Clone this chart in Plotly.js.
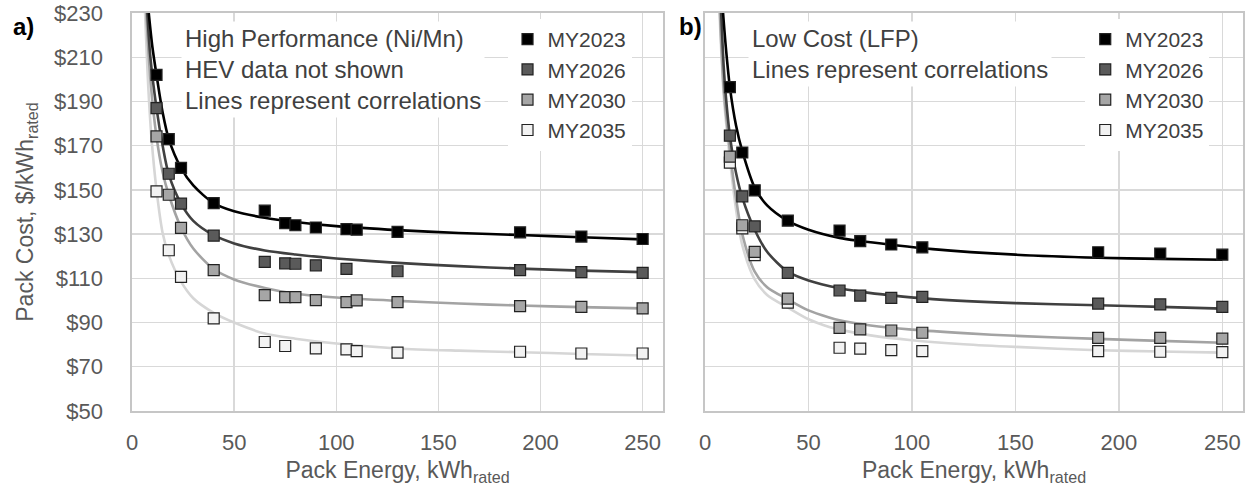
<!DOCTYPE html>
<html>
<head>
<meta charset="utf-8">
<script src="https://cdn.plot.ly/plotly-3.0.1.min.js"></script>
<style>
  html, body { margin: 0; padding: 0; background: #ffffff; }
  #chart { width: 1255px; height: 492px; }
</style>
</head>
<body>
<div id="chart"></div>
<script>
// ---- Model years shown in both panels ----
const modelYears = ['MY2023', 'MY2026', 'MY2030', 'MY2035'];

// ---- a) High Performance (Ni/Mn): pack cost points, $/kWh ----
const niMnEnergy = [12, 18, 24, 40, 65, 75, 80, 90, 105, 110, 130, 190, 220, 250];
const niMnCost2023 = [202, 173, 160, 144, 140.6, 135, 134, 133, 132.3, 132, 131, 130.8, 128.9, 127.8];
const niMnCost2026 = [187, 157.3, 143.8, 129.3, 117.4, 116.8, 116.6, 115.9, 114.3, null, 113.2, 113.7, 112.8, 112.5];
const niMnCost2030 = [174.2, 147.8, 132.8, 113.7, 102.4, 101.5, 101.5, 100.1, 99.2, 100, 99.2, 97.4, 97.1, 96.4];
const niMnCost2035 = [149.3, 122.7, 110.7, 91.9, 81.2, 79.4, null, 78.3, 77.9, 77.1, 76.4, 76.8, 76, 76];

// ---- a) correlation curves ----
const niMnFit2023X = [8.2, 10, 12, 15, 18, 24, 30, 40, 50, 65, 80, 100, 130, 160, 190, 220, 250];
const niMnFit2023Y = [230, 214.5, 202, 185, 173, 160, 152, 144, 140.3, 137.4, 135.5, 133.6, 131.8, 130.5, 129.6, 128.6, 127.6];
const niMnFit2026X = [7.5, 9, 12, 15, 18, 24, 30, 40, 50, 65, 80, 100, 130, 160, 190, 220, 250];
const niMnFit2026Y = [230, 210, 187, 170, 157, 143.8, 136, 129.5, 125.8, 122.6, 120.8, 119, 117, 115.5, 114.4, 113.5, 112.8];
const niMnFit2030X = [7, 9, 12, 15, 18, 24, 30, 40, 50, 65, 80, 100, 130, 160, 190, 220, 250];
const niMnFit2030Y = [230, 200, 174, 158, 147.8, 133, 123.5, 114.2, 109.5, 105.6, 103, 101.3, 99.8, 98.6, 97.7, 97, 96.4];
const niMnFit2035X = [6.4, 8, 9.6, 12, 15, 18, 24, 30, 40, 50, 65, 80, 100, 130, 160, 190, 220, 250];
const niMnFit2035Y = [230, 196, 172.7, 150, 130.5, 120.5, 108.5, 101, 94.4, 90, 85, 82.7, 80.5, 78.3, 77.3, 76.6, 75.8, 75.1];

// ---- b) Low Cost (LFP): pack cost points, $/kWh ----
const lfpEnergy = [12, 18, 24, 40, 65, 75, 90, 105, 190, 220, 250];
const lfpCost2023 = [196.5, 166.9, 149.8, 136.1, 131.6, 126.8, 125.3, 124, 121.8, 121.2, 120.7];
const lfpCost2026 = [174.5, 147.1, 133.5, 112.5, 104.5, 102.2, 101.2, 101.6, 98.6, 98.2, 97.1];
const lfpCost2030 = [165, 134, 122, 100.8, 87.6, 86.9, 86.4, 85.4, 83.1, 83.1, 82.7];
const lfpCost2035 = [162.3, 132.6, 120.5, 99, 78.6, 78.2, 77.5, 77.1, 77.1, 76.8, 76.6];

// ---- b) correlation curves ----
const lfpFit2023X = [8.7, 10, 12, 15, 18, 24, 30, 40, 50, 65, 75, 90, 110, 150, 190, 220, 250];
const lfpFit2023Y = [230, 215, 196.5, 179, 167.5, 151, 143, 136, 132, 128.3, 126.9, 125.2, 123.2, 120.7, 119.3, 118.8, 118.4];
const lfpFit2026X = [7.8, 9, 10, 12, 15, 18, 24, 30, 40, 50, 65, 75, 90, 110, 150, 190, 220, 250];
const lfpFit2026Y = [230, 206, 193, 174.5, 157.5, 146.5, 132, 122, 113, 109, 105.5, 104, 102.3, 100.6, 98.8, 97.8, 97.1, 96.3];
const lfpFit2030X = [7.2, 9, 12, 15, 18, 24, 30, 40, 50, 60, 65, 80, 100, 125, 150, 190, 220, 250];
const lfpFit2030Y = [230, 196, 168, 146, 130, 113, 106, 100.5, 95.5, 92.3, 91, 88.7, 86.8, 85.2, 84, 82.6, 81.7, 80.9];
const lfpFit2035X = [7, 9, 12, 15, 18, 24, 30, 40, 50, 60, 65, 80, 100, 125, 150, 190, 220, 250];
const lfpFit2035Y = [230, 193, 164, 141, 125, 109.5, 102.5, 96.8, 91.5, 88, 86.8, 84.2, 82, 80.2, 79, 77.5, 76.9, 76.4];

// ---- tick values and labels ----
const energyTicks = [0, 50, 100, 150, 200, 250];
const costTicks = [50, 70, 90, 110, 130, 150, 170, 190, 210, 230];
const costTickLabels = costTicks.map(v => '$' + v);

// ---- styling ----
const FONT = 'Liberation Sans, Arial, Helvetica, sans-serif';
const markerFill = ['#000000', '#5a5a5a', '#a6a6a6', '#f2f2f2'];
const lineColor = ['#000000', '#404040', '#a3a3a3', '#d6d6d6'];

function panelTraces(xa, ya, legendId, energy, costs, fitsX, fitsY) {
  const traces = [];
  // correlation lines first so the squares sit on top
  for (let i = 3; i >= 0; i--) {
    traces.push({
      type: 'scatter', mode: 'lines', xaxis: xa, yaxis: ya,
      x: fitsX[i], y: fitsY[i],
      line: { color: lineColor[i], width: 2.6, shape: 'spline', smoothing: 0.8 },
      showlegend: false, hoverinfo: 'skip'
    });
  }
  for (let i = 3; i >= 0; i--) {
    traces.push({
      type: 'scatter', mode: 'markers', xaxis: xa, yaxis: ya,
      name: modelYears[i], legend: legendId, legendrank: i + 1,
      x: energy, y: costs[i],
      marker: { symbol: 'square', size: 11, color: markerFill[i],
                line: { color: '#222222', width: 1.2 } },
      cliponaxis: false
    });
  }
  return traces;
}

const data = [].concat(
  panelTraces('x', 'y', 'legend', niMnEnergy,
    [niMnCost2023, niMnCost2026, niMnCost2030, niMnCost2035],
    [niMnFit2023X, niMnFit2026X, niMnFit2030X, niMnFit2035X],
    [niMnFit2023Y, niMnFit2026Y, niMnFit2030Y, niMnFit2035Y]),
  panelTraces('x2', 'y2', 'legend2', lfpEnergy,
    [lfpCost2023, lfpCost2026, lfpCost2030, lfpCost2035],
    [lfpFit2023X, lfpFit2026X, lfpFit2030X, lfpFit2035X],
    [lfpFit2023Y, lfpFit2026Y, lfpFit2030Y, lfpFit2035Y])
);

const gridCol = '#d9d9d9';
const frameCol = '#c6c6c6';
const tickCol = '#595959';

function xAxis(domain, anchor) {
  return {
    domain: domain, anchor: anchor, range: [0, 260],
    tickmode: 'array', tickvals: energyTicks,
    showgrid: true, gridcolor: gridCol, gridwidth: 1.3,
    zeroline: false, showline: true, mirror: true,
    linecolor: frameCol, linewidth: 1.6,
    ticks: '', ticklabelstandoff: 11,
    tickfont: { family: FONT, size: 22, color: tickCol },
    title: { text: 'Pack Energy, kWh<sub>rated</sub>', standoff: 8,
             font: { family: FONT, size: 23, color: tickCol } }
  };
}
function yAxis(anchor, labels) {
  return {
    anchor: anchor, range: [50, 230],
    tickmode: 'array', tickvals: costTicks, ticktext: costTickLabels,
    showticklabels: labels,
    showgrid: true, gridcolor: gridCol, gridwidth: 1.3,
    zeroline: false, showline: true, mirror: true,
    linecolor: frameCol, linewidth: 1.6,
    ticks: '', ticklabelstandoff: 23,
    tickfont: { family: FONT, size: 22, color: tickCol },
    title: labels ? { text: 'Pack Cost, $/kWh<sub>rated</sub>', standoff: 14,
                      font: { family: FONT, size: 23, color: tickCol } } : { text: '' }
  };
}

function legendAt(x) {
  return {
    x: x, y: 0.985, xanchor: 'left', yanchor: 'top',
    bgcolor: '#ffffff', borderwidth: 0,
    font: { family: FONT, size: 21, color: '#404040' },
    traceorder: 'normal', itemclick: false, itemdoubleclick: false
  };
}

const noteFont = { family: FONT, size: 24, color: '#404040' };

const layout = {
  width: 1255, height: 492,
  margin: { l: 132, r: 12, t: 13, b: 80.5 },
  paper_bgcolor: '#ffffff', plot_bgcolor: '#ffffff',
  font: { family: FONT, color: tickCol },
  showlegend: true,
  xaxis: xAxis([0, 0.478], 'y'),
  yaxis: yAxis('x', true),
  xaxis2: xAxis([0.5158, 1], 'y2'),
  yaxis2: yAxis('x2', false),
  legend: legendAt(0.338),
  legend2: legendAt(0.858),
  annotations: [
    { xref: 'paper', yref: 'paper', x: -0.109, y: 0.965, xanchor: 'left', yanchor: 'middle',
      text: '<b>a)</b>', showarrow: false, font: { family: FONT, size: 24, color: '#000000' } },
    { xref: 'paper', yref: 'paper', x: 0.4905, y: 0.965, xanchor: 'left', yanchor: 'middle',
      text: '<b>b)</b>', showarrow: false, font: { family: FONT, size: 24, color: '#000000' } },
    { xref: 'paper', yref: 'paper', x: 0.0437, y: 0.857, xanchor: 'left', yanchor: 'middle',
      align: 'left', showarrow: false, bgcolor: '#ffffff', borderpad: 3,
      text: 'High Performance (Ni/Mn)<br>HEV data not shown<br>Lines represent correlations',
      font: noteFont },
    { xref: 'paper', yref: 'paper', x: 0.5549, y: 0.897, xanchor: 'left', yanchor: 'middle',
      align: 'left', showarrow: false, bgcolor: '#ffffff', borderpad: 3,
      text: 'Low Cost (LFP)<br>Lines represent correlations',
      font: noteFont }
  ]
};

Plotly.newPlot('chart', data, layout, { displayModeBar: false, staticPlot: true });
</script>
</body>
</html>
